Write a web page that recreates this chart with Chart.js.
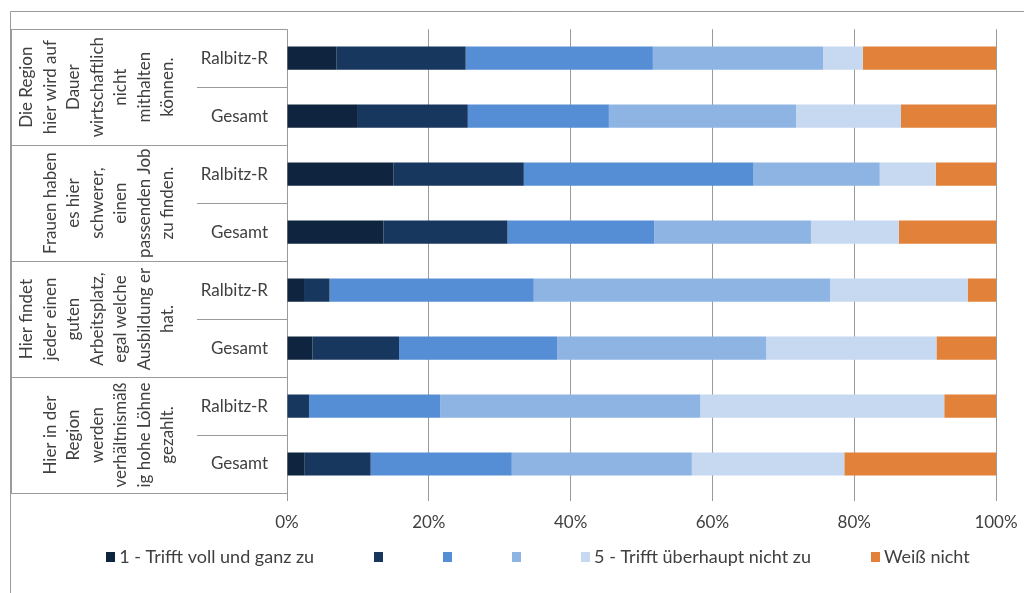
<!DOCTYPE html>
<html>
<head>
<meta charset="utf-8">
<script src="https://cdn.jsdelivr.net/npm/chart.js@4.4.1/dist/chart.umd.min.js"></script>
<style>
  html, body { margin: 0; padding: 0; background: #fff; }
  #wrap { width: 1024px; height: 593px; }
</style>
</head>
<body>
<div id="wrap"><canvas id="chart" width="1024" height="593"></canvas></div>
<script>
// bar rows, top to bottom
const rowLabels = ["Ralbitz-R", "Gesamt", "Ralbitz-R", "Gesamt", "Ralbitz-R", "Gesamt", "Ralbitz-R", "Gesamt"];

// statement groups (two rows each), wrapped as in the original
const groupLines = [
  ["Die Region", "hier wird auf", "Dauer", "wirtschaftlich", "nicht", "mithalten", "können."],
  ["Frauen haben", "es hier", "schwerer,", "einen", "passenden Job", "zu finden."],
  ["Hier findet", "jeder einen", "guten", "Arbeitsplatz,", "egal welche", "Ausbildung er", "hat."],
  ["Hier in der", "Region", "werden", "verhältnismäß", "ig hohe Löhne", "gezahlt."]
];

const seriesNames = ["1 - Trifft voll und ganz zu", "", "", "", "5 - Trifft überhaupt nicht zu", "Weiß nicht"];

// percentages per answer, one value per row
const trifft1 = [7.0, 10.0, 15.0, 13.6, 2.4, 3.6, 0.0, 2.5];
const trifft2 = [18.2, 15.5, 18.4, 17.5, 3.6, 12.2, 3.1, 9.3];
const trifft3 = [26.4, 19.9, 32.4, 20.7, 28.8, 22.3, 18.5, 19.9];
const trifft4 = [24.0, 26.4, 17.8, 22.1, 41.8, 29.5, 36.7, 25.4];
const trifft5 = [5.6, 14.8, 7.9, 12.4, 19.4, 24.0, 34.4, 21.5];
const weissNicht = [18.8, 13.4, 8.5, 13.7, 4.0, 8.4, 7.3, 21.4];

const xTicks = [0, 20, 40, 60, 80, 100];

const colors = ["#0f243e", "#17375e", "#558ed5", "#8eb4e3", "#c6d9f1", "#e2823a"];
const textColor = "#404040";
const lineColor = "#9a9a9a";
const FONT = "Lato, 'Noto Sans', sans-serif";

const allSeries = [trifft1, trifft2, trifft3, trifft4, trifft5, weissNicht];

// frame, table lines and rotated group labels
const tablePlugin = {
  id: "table",
  beforeDraw(chart) {
    const c = chart.ctx;
    c.save();
    c.fillStyle = "#fff";
    c.fillRect(0, 0, chart.width, chart.height);
    c.restore();
  },
  afterDraw(chart) {
    const c = chart.ctx;
    const y = chart.scales.y;
    const area = chart.chartArea;
    const n = rowLabels.length;
    const bounds = [area.top];
    for (let i = 0; i < n - 1; i++) {
      bounds.push((y.getPixelForValue(i) + y.getPixelForValue(i + 1)) / 2);
    }
    bounds.push(area.bottom);

    c.save();
    c.strokeStyle = lineColor;
    c.lineWidth = 1;
    // outer frame (top + left)
    c.beginPath();
    c.moveTo(10.5, chart.height);
    c.lineTo(10.5, 11.5);
    c.lineTo(chart.width, 11.5);
    c.stroke();
    // table lines
    c.beginPath();
    bounds.forEach((b, i) => {
      const yy = Math.round(b) + 0.5;
      c.moveTo(i % 2 === 0 ? 11 : 197, yy);
      c.lineTo(area.left, yy);
    });
    c.moveTo(11.5, Math.round(area.top));
    c.lineTo(11.5, Math.round(area.bottom));
    c.stroke();

    // group labels, rotated
    c.fillStyle = textColor;
    c.font = "17px " + FONT;
    c.textAlign = "center";
    c.textBaseline = "middle";
    groupLines.forEach((lines, g) => {
      const cy = (bounds[g * 2] + bounds[g * 2 + 2]) / 2;
      lines.forEach((ln, k) => {
        const x = 168 - (lines.length - 1 - k) * 23.5;
        c.save();
        c.translate(x, cy);
        c.rotate(-Math.PI / 2);
        c.fillText(ln, 0, 0);
        c.restore();
      });
    });

    // legend
    c.font = "18px " + FONT;
    c.textAlign = "left";
    const box = 9, gapText = 4, gapItem = 60;
    const widths = chart.data.datasets.map(ds =>
      box + (ds.label ? gapText + c.measureText(ds.label).width : 0));
    const total = widths.reduce((a, b) => a + b, 0) + gapItem * (widths.length - 1);
    let lx = 538 - total / 2;
    const ly = 557;
    chart.data.datasets.forEach((ds, i) => {
      c.fillStyle = ds.backgroundColor;
      c.fillRect(Math.round(lx), ly - 5, box, box + 1);
      if (ds.label) {
        c.fillStyle = textColor;
        c.fillText(ds.label, lx + box + gapText, ly);
      }
      lx += widths[i] + gapItem;
    });
    c.restore();
  }
};

new Chart(document.getElementById("chart"), {
  type: "bar",
  data: {
    labels: rowLabels,
    datasets: allSeries.map((data, i) => ({
      label: seriesNames[i],
      data,
      backgroundColor: colors[i],
      borderWidth: 0,
      categoryPercentage: 1,
      barPercentage: 0.4
    }))
  },
  options: {
    indexAxis: "y",
    responsive: false,
    animation: false,
    devicePixelRatio: 1,
    layout: { padding: { top: 29, right: 0, left: 0, bottom: 0 } },
    plugins: { legend: { display: false }, tooltip: { enabled: false } },
    scales: {
      x: {
        stacked: true,
        min: 0,
        max: 100,
        afterBuildTicks: s => { s.ticks = xTicks.map(v => ({ value: v })); },
        afterFit: s => { s.height = 100; s.paddingLeft = 0; s.paddingRight = 28; },
        grid: { color: lineColor, tickLength: 8, drawTicks: true },
        border: { display: false },
        ticks: {
          callback: v => v + "%",
          color: textColor,
          font: { family: FONT, size: 17 },
          padding: 11,
          maxRotation: 0
        }
      },
      y: {
        stacked: true,
        afterFit: s => { s.width = 287; },
        grid: { display: false, drawTicks: false },
        border: { display: false },
        ticks: {
          color: textColor,
          font: { family: FONT, size: 17 },
          padding: 19
        }
      }
    }
  },
  plugins: [tablePlugin]
});
</script>
</body>
</html>
